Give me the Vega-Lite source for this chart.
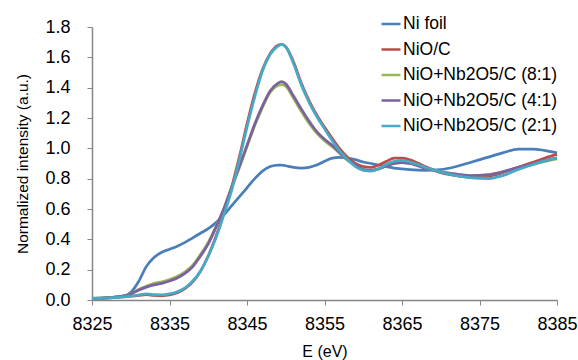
{
  "$schema": "https://vega.github.io/schema/vega-lite/v6.json",
  "width": 465,
  "height": 273,
  "autosize": {"type": "none"},
  "padding": {"left": 92, "top": 27, "right": 21, "bottom": 60},
  "background": "white",
  "config": {
    "view": {"stroke": null},
    "font": "Liberation Sans",
    "axis": {
      "grid": false,
      "labelFlush": false,
      "labelOverlap": false,
      "domainColor": "#868686",
      "domainWidth": 1.5,
      "tickColor": "#868686",
      "tickWidth": 1,
      "tickSize": 5,
      "labelColor": "#000000",
      "labelFont": "Liberation Sans",
      "labelFontSize": 18,
      "titleColor": "#000000",
      "titleFont": "Liberation Sans",
      "titleFontWeight": "normal"
    }
  },
  "data": {
    "values": [
      {"E": 8325, "Ni foil": 0.01, "NiO/C": 0.01, "NiO+Nb2O5/C (8:1)": 0.01, "NiO+Nb2O5/C (4:1)": 0.01, "NiO+Nb2O5/C (2:1)": 0.01},
      {"E": 8327, "Ni foil": 0.015, "NiO/C": 0.013, "NiO+Nb2O5/C (8:1)": 0.015, "NiO+Nb2O5/C (4:1)": 0.015, "NiO+Nb2O5/C (2:1)": 0.013},
      {"E": 8329, "Ni foil": 0.025, "NiO/C": 0.02, "NiO+Nb2O5/C (8:1)": 0.025, "NiO+Nb2O5/C (4:1)": 0.025, "NiO+Nb2O5/C (2:1)": 0.02},
      {"E": 8330, "Ni foil": 0.05, "NiO/C": 0.025, "NiO+Nb2O5/C (8:1)": 0.04, "NiO+Nb2O5/C (4:1)": 0.04, "NiO+Nb2O5/C (2:1)": 0.025},
      {"E": 8331, "Ni foil": 0.12, "NiO/C": 0.03, "NiO+Nb2O5/C (8:1)": 0.07, "NiO+Nb2O5/C (4:1)": 0.065, "NiO+Nb2O5/C (2:1)": 0.033},
      {"E": 8332, "Ni foil": 0.22, "NiO/C": 0.035, "NiO+Nb2O5/C (8:1)": 0.09, "NiO+Nb2O5/C (4:1)": 0.085, "NiO+Nb2O5/C (2:1)": 0.04},
      {"E": 8333, "Ni foil": 0.28, "NiO/C": 0.03, "NiO+Nb2O5/C (8:1)": 0.11, "NiO+Nb2O5/C (4:1)": 0.1, "NiO+Nb2O5/C (2:1)": 0.036},
      {"E": 8334, "Ni foil": 0.315, "NiO/C": 0.028, "NiO+Nb2O5/C (8:1)": 0.12, "NiO+Nb2O5/C (4:1)": 0.11, "NiO+Nb2O5/C (2:1)": 0.033},
      {"E": 8335, "Ni foil": 0.335, "NiO/C": 0.033, "NiO+Nb2O5/C (8:1)": 0.135, "NiO+Nb2O5/C (4:1)": 0.125, "NiO+Nb2O5/C (2:1)": 0.04},
      {"E": 8336, "Ni foil": 0.355, "NiO/C": 0.048, "NiO+Nb2O5/C (8:1)": 0.155, "NiO+Nb2O5/C (4:1)": 0.145, "NiO+Nb2O5/C (2:1)": 0.055},
      {"E": 8337, "Ni foil": 0.38, "NiO/C": 0.075, "NiO+Nb2O5/C (8:1)": 0.185, "NiO+Nb2O5/C (4:1)": 0.175, "NiO+Nb2O5/C (2:1)": 0.08},
      {"E": 8338, "Ni foil": 0.41, "NiO/C": 0.12, "NiO+Nb2O5/C (8:1)": 0.23, "NiO+Nb2O5/C (4:1)": 0.22, "NiO+Nb2O5/C (2:1)": 0.125},
      {"E": 8339, "Ni foil": 0.44, "NiO/C": 0.19, "NiO+Nb2O5/C (8:1)": 0.3, "NiO+Nb2O5/C (4:1)": 0.29, "NiO+Nb2O5/C (2:1)": 0.19},
      {"E": 8340, "Ni foil": 0.47, "NiO/C": 0.29, "NiO+Nb2O5/C (8:1)": 0.38, "NiO+Nb2O5/C (4:1)": 0.37, "NiO+Nb2O5/C (2:1)": 0.29},
      {"E": 8341, "Ni foil": 0.51, "NiO/C": 0.42, "NiO+Nb2O5/C (8:1)": 0.485, "NiO+Nb2O5/C (4:1)": 0.48, "NiO+Nb2O5/C (2:1)": 0.41},
      {"E": 8342, "Ni foil": 0.56, "NiO/C": 0.57, "NiO+Nb2O5/C (8:1)": 0.6, "NiO+Nb2O5/C (4:1)": 0.6, "NiO+Nb2O5/C (2:1)": 0.56},
      {"E": 8343, "Ni foil": 0.62, "NiO/C": 0.74, "NiO+Nb2O5/C (8:1)": 0.74, "NiO+Nb2O5/C (4:1)": 0.74, "NiO+Nb2O5/C (2:1)": 0.72},
      {"E": 8344, "Ni foil": 0.68, "NiO/C": 0.94, "NiO+Nb2O5/C (8:1)": 0.87, "NiO+Nb2O5/C (4:1)": 0.88, "NiO+Nb2O5/C (2:1)": 0.92},
      {"E": 8345, "Ni foil": 0.74, "NiO/C": 1.16, "NiO+Nb2O5/C (8:1)": 1.01, "NiO+Nb2O5/C (4:1)": 1.02, "NiO+Nb2O5/C (2:1)": 1.14},
      {"E": 8346, "Ni foil": 0.8, "NiO/C": 1.36, "NiO+Nb2O5/C (8:1)": 1.15, "NiO+Nb2O5/C (4:1)": 1.16, "NiO+Nb2O5/C (2:1)": 1.34},
      {"E": 8347, "Ni foil": 0.85, "NiO/C": 1.52, "NiO+Nb2O5/C (8:1)": 1.27, "NiO+Nb2O5/C (4:1)": 1.28, "NiO+Nb2O5/C (2:1)": 1.51},
      {"E": 8348, "Ni foil": 0.88, "NiO/C": 1.625, "NiO+Nb2O5/C (8:1)": 1.37, "NiO+Nb2O5/C (4:1)": 1.38, "NiO+Nb2O5/C (2:1)": 1.62},
      {"E": 8349, "Ni foil": 0.89, "NiO/C": 1.68, "NiO+Nb2O5/C (8:1)": 1.415, "NiO+Nb2O5/C (4:1)": 1.43, "NiO+Nb2O5/C (2:1)": 1.675},
      {"E": 8349.5, "Ni foil": 0.89, "NiO/C": 1.685, "NiO+Nb2O5/C (8:1)": 1.42, "NiO+Nb2O5/C (4:1)": 1.44, "NiO+Nb2O5/C (2:1)": 1.685},
      {"E": 8350, "Ni foil": 0.885, "NiO/C": 1.67, "NiO+Nb2O5/C (8:1)": 1.41, "NiO+Nb2O5/C (4:1)": 1.425, "NiO+Nb2O5/C (2:1)": 1.67},
      {"E": 8351, "Ni foil": 0.875, "NiO/C": 1.57, "NiO+Nb2O5/C (8:1)": 1.33, "NiO+Nb2O5/C (4:1)": 1.345, "NiO+Nb2O5/C (2:1)": 1.56},
      {"E": 8352, "Ni foil": 0.87, "NiO/C": 1.43, "NiO+Nb2O5/C (8:1)": 1.245, "NiO+Nb2O5/C (4:1)": 1.26, "NiO+Nb2O5/C (2:1)": 1.42},
      {"E": 8353, "Ni foil": 0.875, "NiO/C": 1.315, "NiO+Nb2O5/C (8:1)": 1.165, "NiO+Nb2O5/C (4:1)": 1.18, "NiO+Nb2O5/C (2:1)": 1.305},
      {"E": 8354, "Ni foil": 0.89, "NiO/C": 1.22, "NiO+Nb2O5/C (8:1)": 1.1, "NiO+Nb2O5/C (4:1)": 1.11, "NiO+Nb2O5/C (2:1)": 1.21},
      {"E": 8355, "Ni foil": 0.915, "NiO/C": 1.14, "NiO+Nb2O5/C (8:1)": 1.05, "NiO+Nb2O5/C (4:1)": 1.06, "NiO+Nb2O5/C (2:1)": 1.13},
      {"E": 8356, "Ni foil": 0.935, "NiO/C": 1.065, "NiO+Nb2O5/C (8:1)": 1.01, "NiO+Nb2O5/C (4:1)": 1.02, "NiO+Nb2O5/C (2:1)": 1.05},
      {"E": 8357, "Ni foil": 0.94, "NiO/C": 0.995, "NiO+Nb2O5/C (8:1)": 0.965, "NiO+Nb2O5/C (4:1)": 0.97, "NiO+Nb2O5/C (2:1)": 0.98},
      {"E": 8358, "Ni foil": 0.935, "NiO/C": 0.94, "NiO+Nb2O5/C (8:1)": 0.92, "NiO+Nb2O5/C (4:1)": 0.925, "NiO+Nb2O5/C (2:1)": 0.925},
      {"E": 8359, "Ni foil": 0.925, "NiO/C": 0.9, "NiO+Nb2O5/C (8:1)": 0.885, "NiO+Nb2O5/C (4:1)": 0.89, "NiO+Nb2O5/C (2:1)": 0.88},
      {"E": 8360, "Ni foil": 0.91, "NiO/C": 0.88, "NiO+Nb2O5/C (8:1)": 0.86, "NiO+Nb2O5/C (4:1)": 0.86, "NiO+Nb2O5/C (2:1)": 0.855},
      {"E": 8361, "Ni foil": 0.9, "NiO/C": 0.875, "NiO+Nb2O5/C (8:1)": 0.855, "NiO+Nb2O5/C (4:1)": 0.855, "NiO+Nb2O5/C (2:1)": 0.85},
      {"E": 8362, "Ni foil": 0.89, "NiO/C": 0.89, "NiO+Nb2O5/C (8:1)": 0.865, "NiO+Nb2O5/C (4:1)": 0.865, "NiO+Nb2O5/C (2:1)": 0.865},
      {"E": 8363, "Ni foil": 0.88, "NiO/C": 0.915, "NiO+Nb2O5/C (8:1)": 0.885, "NiO+Nb2O5/C (4:1)": 0.885, "NiO+Nb2O5/C (2:1)": 0.895},
      {"E": 8364, "Ni foil": 0.87, "NiO/C": 0.935, "NiO+Nb2O5/C (8:1)": 0.9, "NiO+Nb2O5/C (4:1)": 0.9, "NiO+Nb2O5/C (2:1)": 0.915},
      {"E": 8365, "Ni foil": 0.865, "NiO/C": 0.935, "NiO+Nb2O5/C (8:1)": 0.905, "NiO+Nb2O5/C (4:1)": 0.905, "NiO+Nb2O5/C (2:1)": 0.92},
      {"E": 8366, "Ni foil": 0.86, "NiO/C": 0.925, "NiO+Nb2O5/C (8:1)": 0.9, "NiO+Nb2O5/C (4:1)": 0.9, "NiO+Nb2O5/C (2:1)": 0.91},
      {"E": 8368, "Ni foil": 0.855, "NiO/C": 0.88, "NiO+Nb2O5/C (8:1)": 0.87, "NiO+Nb2O5/C (4:1)": 0.87, "NiO+Nb2O5/C (2:1)": 0.875},
      {"E": 8370, "Ni foil": 0.86, "NiO/C": 0.84, "NiO+Nb2O5/C (8:1)": 0.845, "NiO+Nb2O5/C (4:1)": 0.845, "NiO+Nb2O5/C (2:1)": 0.845},
      {"E": 8372, "Ni foil": 0.88, "NiO/C": 0.82, "NiO+Nb2O5/C (8:1)": 0.83, "NiO+Nb2O5/C (4:1)": 0.83, "NiO+Nb2O5/C (2:1)": 0.82},
      {"E": 8374, "Ni foil": 0.91, "NiO/C": 0.81, "NiO+Nb2O5/C (8:1)": 0.82, "NiO+Nb2O5/C (4:1)": 0.82, "NiO+Nb2O5/C (2:1)": 0.805},
      {"E": 8376, "Ni foil": 0.94, "NiO/C": 0.815, "NiO+Nb2O5/C (8:1)": 0.825, "NiO+Nb2O5/C (4:1)": 0.825, "NiO+Nb2O5/C (2:1)": 0.8},
      {"E": 8378, "Ni foil": 0.97, "NiO/C": 0.84, "NiO+Nb2O5/C (8:1)": 0.845, "NiO+Nb2O5/C (4:1)": 0.845, "NiO+Nb2O5/C (2:1)": 0.82},
      {"E": 8380, "Ni foil": 0.995, "NiO/C": 0.875, "NiO+Nb2O5/C (8:1)": 0.87, "NiO+Nb2O5/C (4:1)": 0.875, "NiO+Nb2O5/C (2:1)": 0.86},
      {"E": 8382, "Ni foil": 0.995, "NiO/C": 0.91, "NiO+Nb2O5/C (8:1)": 0.895, "NiO+Nb2O5/C (4:1)": 0.9, "NiO+Nb2O5/C (2:1)": 0.895},
      {"E": 8384, "Ni foil": 0.98, "NiO/C": 0.945, "NiO+Nb2O5/C (8:1)": 0.92, "NiO+Nb2O5/C (4:1)": 0.925, "NiO+Nb2O5/C (2:1)": 0.925},
      {"E": 8385, "Ni foil": 0.97, "NiO/C": 0.96, "NiO+Nb2O5/C (8:1)": 0.93, "NiO+Nb2O5/C (4:1)": 0.935, "NiO+Nb2O5/C (2:1)": 0.935}
    ]
  },
  "transform": [
    {"fold": ["Ni foil", "NiO/C", "NiO+Nb2O5/C (8:1)", "NiO+Nb2O5/C (4:1)", "NiO+Nb2O5/C (2:1)"], "as": ["series", "value"]}
  ],
  "mark": {"type": "line", "interpolate": "monotone", "strokeWidth": 2.75},
  "encoding": {
    "x": {
      "field": "E", "type": "quantitative",
      "scale": {"domain": [8325, 8385], "nice": false, "zero": false},
      "axis": {"values": [8325, 8335, 8345, 8355, 8365, 8375, 8385], "format": "d", "title": "E (eV)", "titleFontSize": 16, "labelPadding": 10, "titlePadding": 10}
    },
    "y": {
      "field": "value", "type": "quantitative",
      "scale": {"domain": [0, 1.8], "nice": false},
      "axis": {"values": [0, 0.2, 0.4, 0.6, 0.8, 1.0, 1.2, 1.4, 1.6, 1.8], "format": ".1f", "title": "Normalized intensity (a.u.)", "titleFontSize": 15.5, "labelPadding": 17, "titlePadding": 14}
    },
    "color": {
      "field": "series", "type": "nominal",
      "scale": {
        "domain": ["Ni foil", "NiO/C", "NiO+Nb2O5/C (8:1)", "NiO+Nb2O5/C (4:1)", "NiO+Nb2O5/C (2:1)"],
        "range": ["#4A7EBB", "#BE4B48", "#98B954", "#7D60A0", "#46AAC5"]
      },
      "legend": {
        "title": null,
        "orient": "none",
        "legendX": 288,
        "legendY": -14,
        "symbolType": "stroke",
        "symbolSize": 361,
        "symbolStrokeWidth": 2.5,
        "labelFont": "Liberation Sans",
        "labelFontSize": 17.5,
        "labelColor": "#000000",
        "labelOffset": 1,
        "rowPadding": 5.5,
        "padding": 0,
        "labelLimit": 300
      }
    }
  }
}
